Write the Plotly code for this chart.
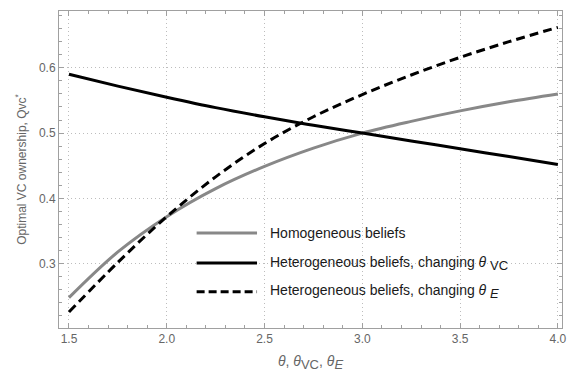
import plotly.graph_objects as go

theta = [1.5, 1.75, 2.0, 2.25, 2.5, 2.75, 3.0, 3.25, 3.5, 3.75, 4.0]
homogeneous = [0.248, 0.318, 0.372, 0.415, 0.449, 0.477, 0.500, 0.518, 0.534, 0.548, 0.560]
hetero_vc = [0.590, 0.572, 0.555, 0.539, 0.525, 0.512, 0.500, 0.488, 0.476, 0.464, 0.452]
hetero_e = [0.226, 0.302, 0.372, 0.433, 0.484, 0.525, 0.559, 0.589, 0.616, 0.640, 0.662]

x_ticks = [1.5, 2.0, 2.5, 3.0, 3.5, 4.0]
x_tick_text = ["1.5", "2.0", "2.5", "3.0", "3.5", "4.0"]
y_ticks = [0.3, 0.4, 0.5, 0.6]
y_tick_text = ["0.3", "0.4", "0.5", "0.6"]

names = [
    "Homogeneous beliefs",
    "Heterogeneous beliefs, changing <i>θ</i> <sub><span style=\"font-size:13px\">VC</span></sub>",
    "Heterogeneous beliefs, changing <i>θ</i> <sub><span style=\"font-size:13px\"><i>E</i></span></sub>",
]
colors = ["#888888", "#000000", "#000000"]
dashes = ["solid", "solid", "9px,5px"]
series = [homogeneous, hetero_vc, hetero_e]

fig = go.Figure()
for nm, ys, c, d in zip(names, series, colors, dashes):
    fig.add_trace(go.Scatter(x=theta, y=ys, mode="lines", name=nm, showlegend=False,
                             line=dict(color=c, width=3, shape="spline", dash=d)))

# manual legend (paper coordinates)
leg_rows = [0.300, 0.205, 0.114]
lx0, lx1, tx = 0.2736, 0.3937, 0.4154
for nm, c, d, yy in zip(names, colors, dashes, leg_rows):
    fig.add_shape(type="line", xref="paper", yref="paper", x0=lx0, x1=lx1, y0=yy, y1=yy,
                  line=dict(color=c, width=3, dash=("8px,4px" if d != "solid" else "solid")))
    fig.add_annotation(xref="paper", yref="paper", x=tx, y=yy, text=nm, showarrow=False,
                       xanchor="left", yanchor="middle",
                       font=dict(family="Liberation Sans, Arial", size=14, color="#1a1a1a"))

axis_common = dict(
    showline=True, linecolor="#a0a0a0", linewidth=1, mirror="allticks",
    ticks="inside", ticklen=5, tickcolor="#a0a0a0", tickwidth=1,
    showgrid=True, gridcolor="#bdbdbd", griddash="1px,3px", gridwidth=1,
    zeroline=False,
    tickfont=dict(family="Liberation Sans, Arial", size=12, color="#666666"),
)

fig.update_xaxes(
    range=[1.449, 4.021], tickvals=x_ticks, ticktext=x_tick_text,
    minor=dict(ticks="inside", dtick=0.1, ticklen=3, tickcolor="#a0a0a0", showgrid=False),
    title=dict(text="<i>θ</i>, <i>θ</i><sub><span style=\"font-size:13px\">VC</span></sub>, <i>θ</i><sub><span style=\"font-size:13px\"><i>E</i></span></sub>",
               font=dict(family="Liberation Sans, Arial", size=14, color="#666666"), standoff=10),
    **axis_common,
)
fig.update_yaxes(
    range=[0.2015, 0.687], tickvals=y_ticks, ticktext=y_tick_text,
    minor=dict(ticks="inside", dtick=0.02, ticklen=3, tickcolor="#a0a0a0", showgrid=False),
    title=dict(text="Optimal VC ownership, Qvc<sup>*</sup>",
               font=dict(family="Liberation Sans, Arial", size=12, color="#666666"), standoff=9),
    **axis_common,
)

fig.update_layout(
    width=573, height=378,
    margin=dict(l=59, r=6, t=11, b=50),
    paper_bgcolor="white", plot_bgcolor="white",
    showlegend=False,
)

fig.write_html("out.html")
